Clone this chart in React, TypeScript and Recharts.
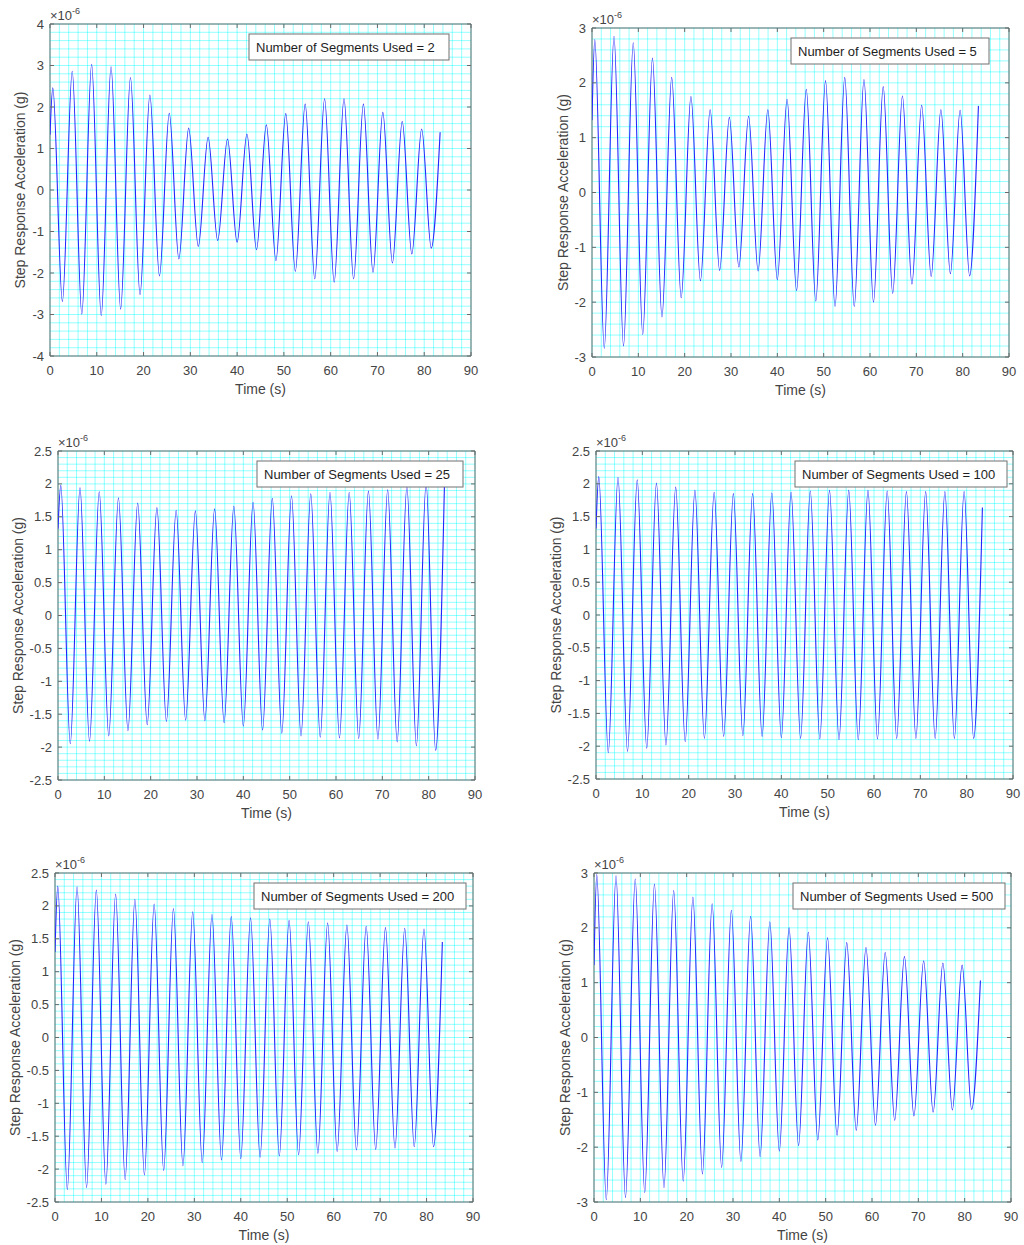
import React from 'react';
import { LineChart, Line, XAxis, YAxis, CartesianGrid, ReferenceArea } from 'recharts';

// time stamps (s) of the crests and troughs, shared by every panel
const peakTimes = [0.6, 4.75, 8.9, 13.05, 17.2, 21.35, 25.5, 29.65, 33.8, 37.95, 42.1, 46.25, 50.4, 54.55, 58.7, 62.85, 67.0, 71.15, 75.3, 79.45];
const troughTimes = [2.65, 6.8, 10.95, 15.1, 19.25, 23.4, 27.55, 31.7, 35.85, 40.0, 44.15, 48.3, 52.45, 56.6, 60.75, 64.9, 69.05, 73.2, 77.35, 81.5];
const endTimes = [0, 83.4];

const xTickLabels = [0, 10, 20, 30, 40, 50, 60, 70, 80, 90];

// values in units of 1e-6 g; ends = [value at t=0, value at last sample]
const seg2Ends = [1.33, 1.39];
const seg2Peaks = [2.46, 2.86, 3.03, 2.97, 2.71, 2.29, 1.85, 1.49, 1.27, 1.23, 1.35, 1.57, 1.84, 2.07, 2.2, 2.2, 2.07, 1.87, 1.65, 1.47];
const seg2Troughs = [-2.69, -2.99, -3.03, -2.87, -2.52, -2.07, -1.66, -1.36, -1.22, -1.26, -1.44, -1.7, -1.96, -2.14, -2.22, -2.14, -1.98, -1.76, -1.54, -1.4];
const seg2YTicks = [-4, -3, -2, -1, 0, 1, 2, 3, 4];

const seg5Ends = [1.32, 1.58];
const seg5Peaks = [2.79, 2.85, 2.73, 2.45, 2.1, 1.75, 1.51, 1.37, 1.39, 1.51, 1.7, 1.88, 2.04, 2.1, 2.06, 1.93, 1.76, 1.59, 1.51, 1.5];
const seg5Troughs = [-2.84, -2.8, -2.59, -2.27, -1.92, -1.61, -1.42, -1.36, -1.43, -1.59, -1.79, -1.98, -2.08, -2.08, -2.0, -1.84, -1.67, -1.53, -1.48, -1.52];
const seg5YTicks = [-3, -2, -1, 0, 1, 2, 3];

const seg25Ends = [1.32, 1.97];
const seg25Peaks = [1.98, 1.94, 1.88, 1.79, 1.71, 1.64, 1.6, 1.59, 1.62, 1.66, 1.72, 1.78, 1.82, 1.85, 1.87, 1.87, 1.89, 1.91, 1.96, 2.01];
const seg25Troughs = [-1.95, -1.91, -1.83, -1.75, -1.66, -1.61, -1.59, -1.6, -1.63, -1.68, -1.74, -1.79, -1.83, -1.85, -1.86, -1.87, -1.88, -1.92, -1.98, -2.05];
const seg25YTicks = [-2.5, -2, -1.5, -1, -0.5, 0, 0.5, 1, 1.5, 2, 2.5];

const seg100Ends = [1.32, 1.64];
const seg100Peaks = [2.11, 2.1, 2.06, 2.01, 1.95, 1.9, 1.87, 1.85, 1.85, 1.86, 1.87, 1.89, 1.9, 1.9, 1.9, 1.89, 1.88, 1.88, 1.88, 1.88];
const seg100Troughs = [-2.1, -2.08, -2.03, -1.98, -1.93, -1.88, -1.85, -1.84, -1.85, -1.87, -1.88, -1.89, -1.9, -1.9, -1.89, -1.88, -1.88, -1.88, -1.88, -1.88];
const seg100YTicks = [-2.5, -2, -1.5, -1, -0.5, 0, 0.5, 1, 1.5, 2, 2.5];

const seg200Ends = [1.3, 1.45];
const seg200Peaks = [2.3, 2.29, 2.24, 2.18, 2.1, 2.03, 1.96, 1.91, 1.87, 1.84, 1.82, 1.8, 1.78, 1.76, 1.74, 1.71, 1.69, 1.67, 1.66, 1.65];
const seg200Troughs = [-2.31, -2.28, -2.23, -2.16, -2.09, -2.02, -1.95, -1.9, -1.86, -1.84, -1.82, -1.8, -1.78, -1.76, -1.73, -1.71, -1.7, -1.68, -1.66, -1.66];
const seg200YTicks = [-2.5, -2, -1.5, -1, -0.5, 0, 0.5, 1, 1.5, 2, 2.5];

const seg500Ends = [1.32, 1.04];
const seg500Peaks = [2.97, 2.95, 2.89, 2.8, 2.68, 2.56, 2.44, 2.32, 2.21, 2.11, 2.0, 1.92, 1.82, 1.73, 1.64, 1.55, 1.48, 1.4, 1.36, 1.32];
const seg500Troughs = [-2.96, -2.92, -2.83, -2.74, -2.62, -2.49, -2.37, -2.26, -2.17, -2.07, -1.97, -1.87, -1.78, -1.69, -1.6, -1.51, -1.43, -1.36, -1.32, -1.31];
const seg500YTicks = [-3, -2, -1, 0, 1, 2, 3];

const FONT = '"Liberation Sans", Arial, Helvetica, sans-serif';
const TICK_COLOR = '#444444';
const FRAME_COLOR = '#6a6a6a';

function buildRows(ends: number[], peaks: number[], troughs: number[]) {
  const rows = [{ t: endTimes[0], v: ends[0] }];
  peaks.forEach((p, i) => {
    rows.push({ t: peakTimes[i], v: p });
    rows.push({ t: troughTimes[i], v: troughs[i] });
  });
  rows.push({ t: endTimes[1], v: ends[1] });
  return rows;
}

// majors plus 4 minor grid positions between each pair
function withMinor(majors: number[]) {
  const out: number[] = [];
  for (let i = 0; i < majors.length - 1; i++) {
    const step = (majors[i + 1] - majors[i]) / 5;
    for (let k = 0; k < 5; k++) out.push(Math.round((majors[i] + k * step) * 1e6) / 1e6);
  }
  out.push(majors[majors.length - 1]);
  return out;
}

const isMajor = (majors: number[], v: number) => majors.some((m) => Math.abs(m - v) < 1e-6);

interface PanelProps {
  title: string;
  rows: { t: number; v: number }[];
  yTicks: number[];
  left: number;
  top: number;
  plotW: number;
  plotH: number;
  yLabelGap: number;
  boxW: number;
}

const ML = 15;
const AXW = 40;
const MT = 25;

function Panel({ title, rows, yTicks, left, top, plotW, plotH, yLabelGap, boxW }: PanelProps) {
  const yMin = yTicks[0];
  const yMax = yTicks[yTicks.length - 1];
  const px = ML + AXW;
  const py = MT;

  const renderXTick = (props: any) => {
    const { x, y, payload } = props;
    if (!isMajor(xTickLabels, payload.value)) return <g />;
    return (
      <g>
        <line x1={x} y1={y} x2={x} y2={y - 4} stroke={FRAME_COLOR} />
        <line x1={x} y1={y - plotH} x2={x} y2={y - plotH + 4} stroke={FRAME_COLOR} />
        <text x={x} y={y + 19} textAnchor="middle" fontSize={13} fill={TICK_COLOR} fontFamily={FONT}>
          {payload.value}
        </text>
      </g>
    );
  };

  const renderYTick = (props: any) => {
    const { x, y, payload } = props;
    if (!isMajor(yTicks, payload.value)) return <g />;
    return (
      <g>
        <line x1={x} y1={y} x2={x + 4} y2={y} stroke={FRAME_COLOR} />
        <line x1={x + plotW} y1={y} x2={x + plotW - 4} y2={y} stroke={FRAME_COLOR} />
        <text x={x - 6} y={y + 4.5} textAnchor="end" fontSize={13} fill={TICK_COLOR} fontFamily={FONT}>
          {String(payload.value)}
        </text>
      </g>
    );
  };

  const decorations = () => (
    <g fontFamily={FONT}>
      <text
        x={px - yLabelGap}
        y={py + plotH / 2}
        transform={`rotate(-90, ${px - yLabelGap}, ${py + plotH / 2})`}
        textAnchor="middle"
        dy="0.35em"
        fontSize={14}
        fill={TICK_COLOR}
      >
        Step Response Acceleration (g)
      </text>
      <text x={px} y={py - 4} fontSize={13} fill={TICK_COLOR}>
        ×10<tspan dy={-6} fontSize={9}>-6</tspan>
      </text>
      <text x={px + plotW / 2} y={py + plotH + 38} textAnchor="middle" fontSize={14} fill={TICK_COLOR}>
        Time (s)
      </text>
    </g>
  );

  // annotation box drawn last so it sits above the grid
  const annotation = () => (
    <g fontFamily={FONT}>
      <rect x={px + 199} y={py + 10} width={boxW} height={26} fill="#ffffff" stroke="#707070" strokeWidth={1} />
      <text x={px + 206} y={py + 23} dy="0.35em" fontSize={13} fill="#1e1e1e">
        {title}
      </text>
    </g>
  );

  return (
    <div style={{ position: 'absolute', left: left - px, top: top - py }}>
      <LineChart
        width={plotW + px + 15}
        height={plotH + py + 45}
        data={rows}
        margin={{ top: MT, right: 15, bottom: 15, left: ML }}
      >
        <CartesianGrid stroke="#00ffff" strokeOpacity={0.42} strokeWidth={1} />
        <XAxis
          type="number"
          dataKey="t"
          domain={[0, 90]}
          ticks={withMinor(xTickLabels)}
          interval={0}
          allowDataOverflow
          tickSize={0}
          tickMargin={0}
          tickLine={false}
          axisLine={false}
          height={30}
          tick={renderXTick}
          label={{ content: annotation }}
        />
        <YAxis
          type="number"
          domain={[yMin, yMax]}
          ticks={withMinor(yTicks)}
          interval={0}
          allowDataOverflow
          tickSize={0}
          tickMargin={0}
          tickLine={false}
          axisLine={false}
          width={AXW}
          tick={renderYTick}
          label={{ content: decorations }}
        />
        <ReferenceArea
          x1={0}
          x2={90}
          y1={yMin}
          y2={yMax}
          fill="none"
          fillOpacity={0}
          stroke={FRAME_COLOR}
          strokeWidth={1}
          ifOverflow="visible"
        />
        <Line
          type="monotone"
          dataKey="v"
          stroke="#2424ff"
          strokeWidth={1.1}
          dot={false}
          activeDot={false}
          isAnimationActive={false}
        />
      </LineChart>
    </div>
  );
}

export default function App() {
  return (
    <div style={{ position: 'absolute', left: 0, top: 0, width: 1024, height: 1245, background: '#fff' }}>
      <Panel title="Number of Segments Used = 2" rows={buildRows(seg2Ends, seg2Peaks, seg2Troughs)} yTicks={seg2YTicks}
        left={50} top={24} plotW={421} plotH={332} yLabelGap={30} boxW={200} />
      <Panel title="Number of Segments Used = 5" rows={buildRows(seg5Ends, seg5Peaks, seg5Troughs)} yTicks={seg5YTicks}
        left={592} top={28} plotW={417} plotH={329} yLabelGap={29} boxW={198} />
      <Panel title="Number of Segments Used = 25" rows={buildRows(seg25Ends, seg25Peaks, seg25Troughs)} yTicks={seg25YTicks}
        left={58} top={451} plotW={417} plotH={329} yLabelGap={40} boxW={206} />
      <Panel title="Number of Segments Used = 100" rows={buildRows(seg100Ends, seg100Peaks, seg100Troughs)} yTicks={seg100YTicks}
        left={596} top={451} plotW={417} plotH={328} yLabelGap={40} boxW={212} />
      <Panel title="Number of Segments Used = 200" rows={buildRows(seg200Ends, seg200Peaks, seg200Troughs)} yTicks={seg200YTicks}
        left={55} top={873} plotW={418} plotH={329} yLabelGap={40} boxW={212} />
      <Panel title="Number of Segments Used = 500" rows={buildRows(seg500Ends, seg500Peaks, seg500Troughs)} yTicks={seg500YTicks}
        left={594} top={873} plotW={417} plotH={329} yLabelGap={29} boxW={212} />
    </div>
  );
}
